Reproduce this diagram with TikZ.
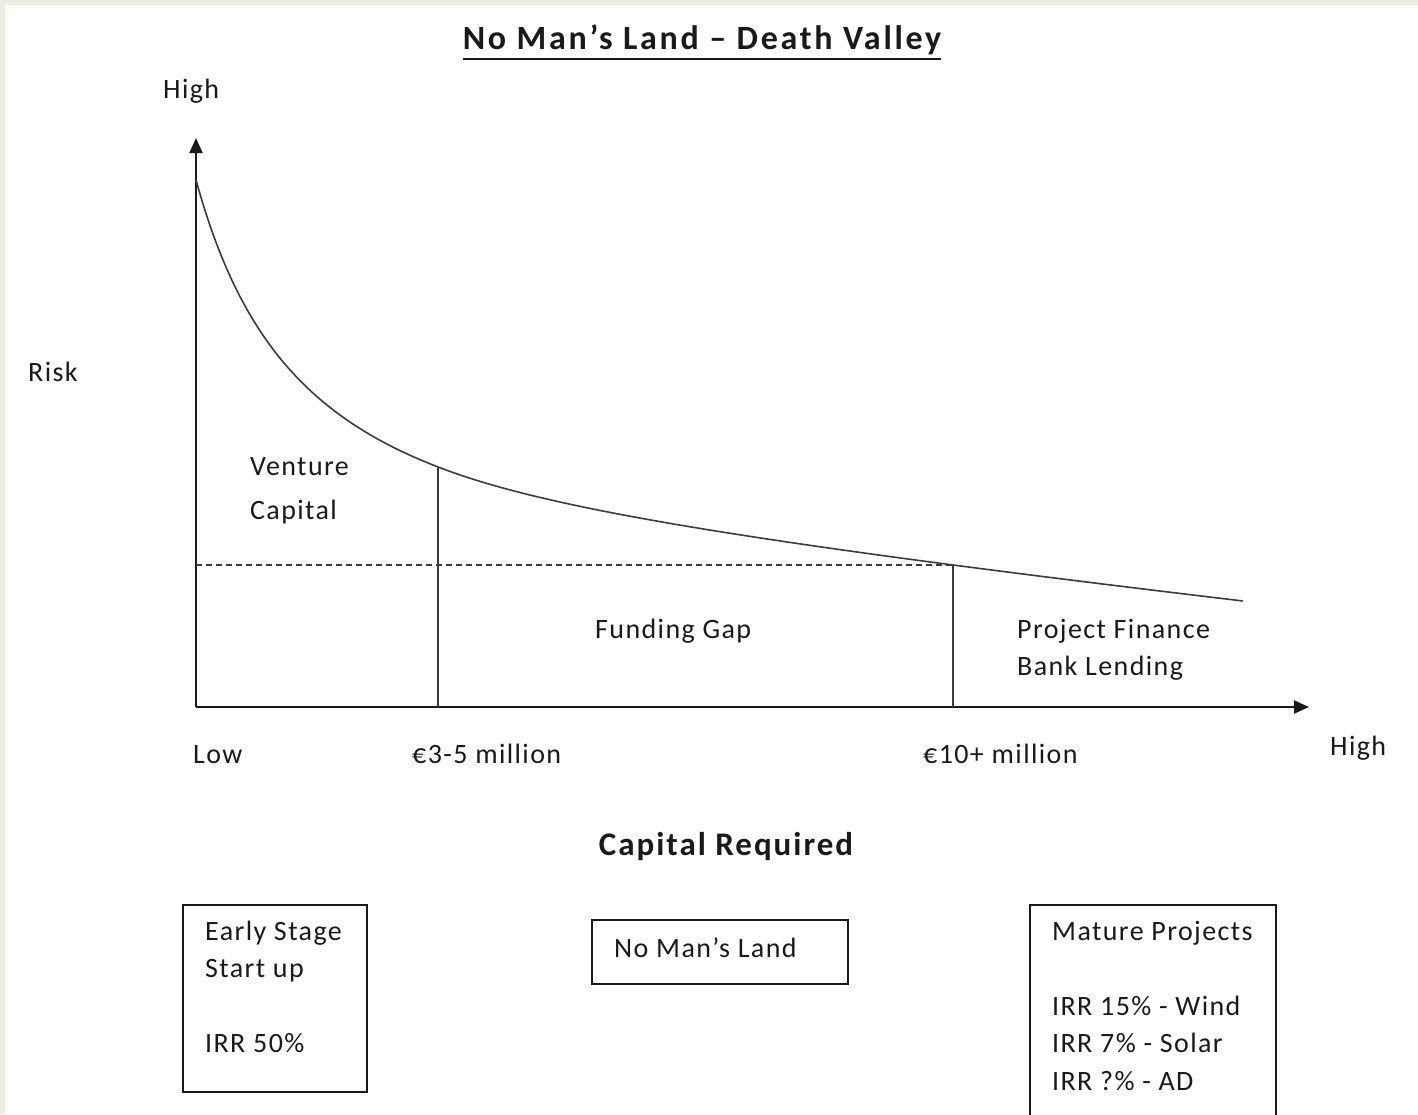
\documentclass[tikz,border=0pt]{standalone}
\usepackage{fontspec}
\setmainfont{Carlito}
\usetikzlibrary{arrows.meta}
\definecolor{beige}{HTML}{EEEBE0}
\definecolor{ink}{HTML}{1A1A1A}
\begin{document}
\begin{tikzpicture}[x=1pt,y=-1pt,
  lbl/.style={anchor=base west,inner sep=0pt,font=\fontsize{28}{37}\selectfont\addfontfeature{LetterSpace=5},text=ink},
  axisline/.style={line width=2pt,draw=ink},
  thin/.style={line width=1.6pt,draw=ink!85},
  boxline/.style={draw=ink,line width=1.6pt},
  tip/.style={-{Triangle[length=15pt,width=13pt]}}]
\useasboundingbox (0,0) rectangle (1418,1114);
\fill[beige] (0,0) rectangle (1418,1114);
\fill[white] (5,5) rectangle (1418,1114);
\clip (0,0) rectangle (1418,1114);
% title
\node[anchor=base,inner sep=0pt,font=\fontsize{34}{40}\selectfont\bfseries\addfontfeature{LetterSpace=8},text=ink] (title) at (702,49) {No Man’s Land – Death Valley};
\draw[line width=2pt,ink] ([yshift=-10pt]title.base west) -- ([yshift=-10pt]title.base east);
% axes
\coordinate (o) at (196,707);
\coordinate (ytip) at (196,138);
\coordinate (xtip) at (1309,707);
\draw[axisline,tip] (o) -- (ytip);
\draw[axisline,tip] (o) -- (xtip);
% curve
\coordinate (c1) at (438,467);
\coordinate (c2) at (953,565);
\draw[thin,line join=round]
  plot[domain=196:438,samples=120] (\x,{604.7-493.05/((\x-79.9)*0.01)})
  -- plot[domain=438:1243,samples=160] (\x,{482.0+0.1063*\x-134.24/((\x-220)*0.01)});
% verticals and dashed
\coordinate (b1) at (438,707);
\coordinate (b2) at (953,707);
\coordinate (d0) at (196,565);
\draw[thin] (c1) -- (b1);
\draw[thin] (c2) -- (b2);
\draw[thin,line width=1.3pt,dash pattern=on 6pt off 4pt] (d0) -- (c2);
% labels
\node[lbl] (hightop) at (163,98) {High};
\node[lbl] (risk) at (28,381) {Risk};
\node[lbl] (vc1) at (250,475) {Venture};
\node[lbl] (vc2) at (250,519) {Capital};
\node[lbl] (gap) at (595,638) {Funding Gap};
\node[lbl] (pf1) at (1017,638) {Project Finance};
\node[lbl] (pf2) at (1017,675) {Bank Lending};
\node[lbl] (low) at (193,763) {Low};
\node[lbl] (m35) at (412,763) {€3-5 million};
\node[lbl] (m10) at (923,763) {€10+ million};
\node[lbl] (highx) at (1330,755) {High};
\node[anchor=base,inner sep=0pt,font=\fontsize{33}{40}\selectfont\bfseries\addfontfeature{LetterSpace=6},text=ink] (capreq) at (726,855) {Capital Required};
% boxes
\draw[boxline] (183,905) rectangle (367,1092);
\node[lbl] (e1) at (205,940) {Early Stage};
\node[lbl] (e2) at (205,977) {Start up};
\node[lbl] (e3) at (205,1052) {IRR 50\%};
\draw[boxline] (592,920) rectangle (848,984);
\node[lbl] (nml) at (614,957) {No Man’s Land};
\draw[boxline] (1030,905) rectangle (1276,1140);
\node[lbl] (mp1) at (1052,940) {Mature Projects};
\node[lbl] (mp2) at (1052,1015) {IRR 15\% - Wind};
\node[lbl] (mp3) at (1052,1052) {IRR 7\% - Solar};
\node[lbl] (mp4) at (1052,1090) {IRR ?\% - AD};
\end{tikzpicture}
\end{document}
